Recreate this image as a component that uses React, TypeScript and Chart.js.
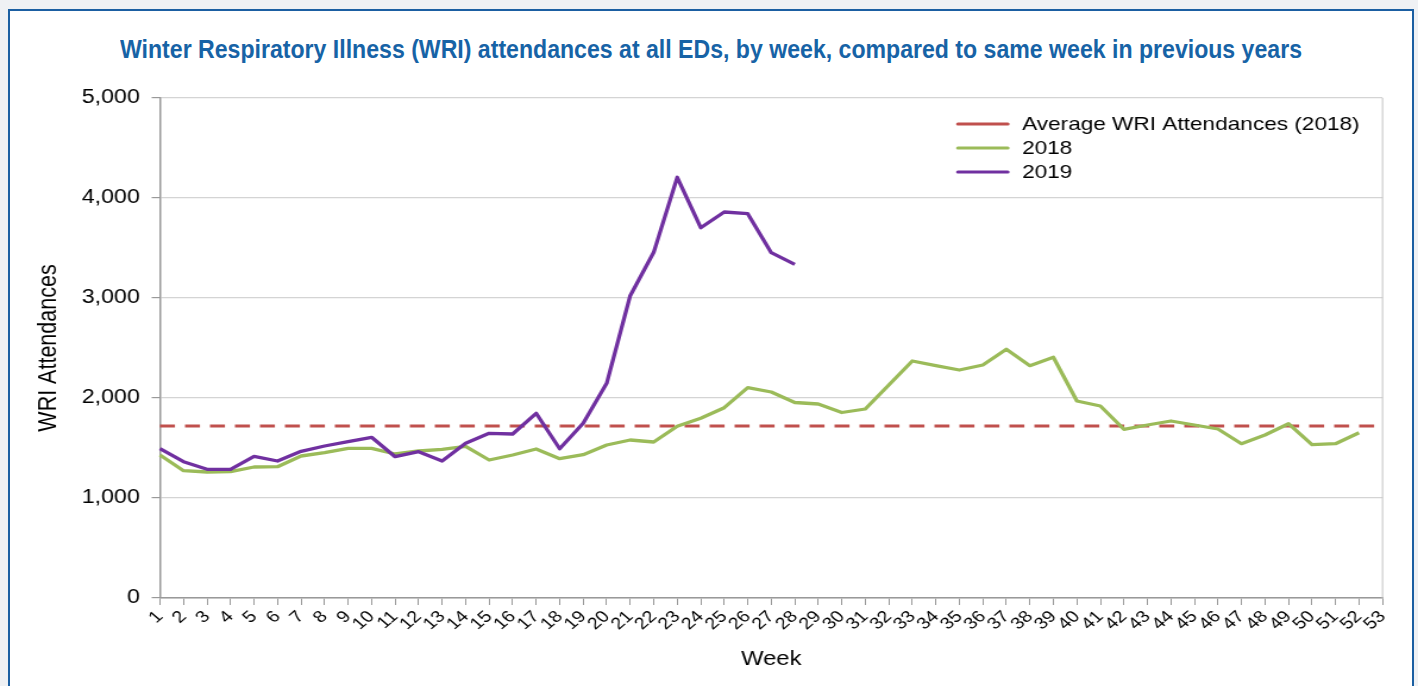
import React, { useEffect, useLayoutEffect, useRef } from "react";
import { Chart, registerables } from "chart.js";

Chart.register(...registerables);

// ---------- data ----------
const TITLE =
  "Winter Respiratory Illness (WRI) attendances at all EDs, by week, compared to same week in previous years";

const WEEKS = [
  "1", "2", "3", "4", "5", "6", "7", "8", "9", "10",
  "11", "12", "13", "14", "15", "16", "17", "18", "19", "20",
  "21", "22", "23", "24", "25", "26", "27", "28", "29", "30",
  "31", "32", "33", "34", "35", "36", "37", "38", "39", "40",
  "41", "42", "43", "44", "45", "46", "47", "48", "49", "50",
  "51", "52", "53",
];

const WRI_2018 = [
  1430, 1273, 1260, 1263, 1310, 1313, 1420, 1453, 1497, 1497,
  1440, 1470, 1487, 1517, 1380, 1430, 1490, 1393, 1433, 1530,
  1580, 1560, 1717, 1797, 1903, 2103, 2060, 1955, 1940, 1855,
  1890, 2130, 2370, 2323, 2280, 2330, 2487, 2323, 2407, 1970,
  1920, 1687, 1730, 1770, 1730, 1690, 1543, 1630, 1743, 1533,
  1543, 1653,
];

const WRI_2019 = [
  1493, 1363, 1287, 1287, 1417, 1370, 1467, 1520, 1563, 1607,
  1413, 1463, 1370, 1547, 1647, 1640, 1847, 1493, 1747, 2147,
  3023, 3457, 4207, 3703, 3860, 3843, 3453, 3337,
];

const AVERAGE_2018 = 1720;

const SERIES_LABELS = ["Average WRI Attendances (2018)", "2018", "2019"];
const SERIES_COLORS = ["#C0504D", "#9BBB59", "#7030A0"];

const Y_MIN = 0;
const Y_MAX = 5000;
const Y_STEP = 1000;

// ---------- layout ----------
const PAGE_W = 1418;
const PAGE_H = 686;
const INNER_W = 1192; // canvas drawn narrower, then stretched horizontally
const STRETCH = PAGE_W / INNER_W;
const TITLE_LEFT = 120;
const TITLE_WIDTH = 1182;
const FONT = '"Liberation Sans", Arial, sans-serif';

const insideLegend = {
  id: "insideLegend",
  afterDraw(chart: any) {
    const ctx = chart.ctx as CanvasRenderingContext2D;
    const area = chart.chartArea;
    const x0 = area.right - 357;
    ctx.save();
    chart.data.datasets.forEach((ds: any, i: number) => {
      const y = area.top + 26 + i * 24;
      ctx.strokeStyle = ds.borderColor;
      ctx.lineWidth = 3;
      ctx.lineCap = "round";
      ctx.setLineDash([]);
      ctx.beginPath();
      ctx.moveTo(x0, y);
      ctx.lineTo(x0 + 42, y);
      ctx.stroke();
      ctx.fillStyle = "#000";
      ctx.font = `19px ${FONT}`;
      ctx.textBaseline = "middle";
      ctx.textAlign = "left";
      ctx.fillText(ds.label, x0 + 54, y + 1);
    });
    ctx.restore();
  },
};

const plotFrame = {
  id: "plotFrame",
  afterDatasetsDraw(chart: any) {
    const ctx = chart.ctx as CanvasRenderingContext2D;
    const a = chart.chartArea;
    ctx.save();
    ctx.strokeStyle = "#c4c4c4";
    ctx.lineWidth = 1;
    ctx.beginPath();
    ctx.moveTo(a.right, a.top);
    ctx.lineTo(a.right, a.bottom);
    ctx.stroke();
    ctx.restore();
  },
};

function ChartCanvas() {
  const ref = useRef<HTMLCanvasElement>(null);
  useEffect(() => {
    if (!ref.current) return;
    Chart.defaults.color = "#000";
    const chart = new Chart(ref.current, {
      type: "line",
      data: {
        labels: WEEKS,
        datasets: [
          {
            label: SERIES_LABELS[0],
            data: WEEKS.map(() => AVERAGE_2018),
            borderColor: SERIES_COLORS[0],
            borderWidth: 3.2,
            borderDash: [12.6, 8.4],
            pointRadius: 0,
            tension: 0,
            order: 2,
          },
          {
            label: SERIES_LABELS[1],
            data: WRI_2018,
            borderColor: SERIES_COLORS[1],
            borderWidth: 3.3,
            pointRadius: 0,
            tension: 0,
            borderJoinStyle: "round",
            order: 1,
          },
          {
            label: SERIES_LABELS[2],
            data: WRI_2019,
            borderColor: SERIES_COLORS[2],
            borderWidth: 3.3,
            pointRadius: 0,
            tension: 0,
            borderJoinStyle: "round",
            order: 0,
          },
        ],
      },
      options: {
        animation: false,
        responsive: true,
        maintainAspectRatio: false,
        devicePixelRatio: 1,
        layout: { padding: { left: 0, top: 98, right: INNER_W - 1382.5 / STRETCH, bottom: 0 } },
        plugins: {
          legend: { display: false },
          tooltip: { enabled: false },
          title: { display: false },
        },
        scales: {
          x: {
            type: "category",
            offset: false,
            afterFit: (s: any) => {
              s.height = PAGE_H - 598;
            },
            grid: {
              offset: false,
              drawOnChartArea: false,
              drawTicks: true,
              tickLength: 7,
              tickColor: "#999",
            },
            border: { color: "#999", width: 1.5 },
            ticks: {
              autoSkip: false,
              maxRotation: 45,
              minRotation: 45,
              padding: 2,
              color: "#000",
              font: { family: FONT, size: 16.5 },
            },
            title: {
              display: true,
              text: "Week",
              color: "#000",
              font: { family: FONT, size: 20, lineHeight: 1.2 },
              padding: { top: 0, bottom: 15 },
            },
          },
          y: {
            min: Y_MIN,
            max: Y_MAX,
            afterFit: (s: any) => {
              s.width = 160 / STRETCH;
            },
            grid: {
              color: "#d4d4d4",
              lineWidth: 1.2,
              tickColor: "#999",
              tickLength: 7,
            },
            border: { color: "#999", width: 1.5 },
            ticks: {
              stepSize: Y_STEP,
              padding: 10,
              color: "#000",
              font: { family: FONT, size: 19.5 },
              callback: (v: any) => Number(v).toLocaleString("en-US"),
            },
            title: {
              display: true,
              text: "WRI Attendances",
              color: "#000",
              font: { family: FONT, size: 21.5, lineHeight: 1.2 },
              padding: { top: 28, bottom: 0 },
            },
          },
        },
      },
      plugins: [insideLegend, plotFrame],
    } as any);
    return () => chart.destroy();
  }, []);
  return <canvas ref={ref} />;
}

function TitleText() {
  const ref = useRef<HTMLSpanElement>(null);
  useLayoutEffect(() => {
    const fit = () => {
      const el = ref.current;
      if (!el) return;
      el.style.transform = "none";
      const w = el.getBoundingClientRect().width;
      if (w > 0) el.style.transform = `scaleX(${TITLE_WIDTH / w})`;
    };
    fit();
    const f = (document as any).fonts;
    if (f && f.ready) f.ready.then(fit);
  }, []);
  return (
    <span
      ref={ref}
      style={{
        position: "absolute",
        left: TITLE_LEFT,
        top: 36,
        display: "inline-block",
        whiteSpace: "nowrap",
        font: 'bold 26px/26px "Liberation Sans Narrow", "Liberation Sans", Arial, sans-serif',
        color: "#1763A6",
        transformOrigin: "0 0",
      }}
    >
      {TITLE}
    </span>
  );
}

export default function App() {
  return (
    <div
      style={{
        position: "fixed",
        left: 0,
        top: 0,
        width: PAGE_W,
        height: PAGE_H,
        overflow: "hidden",
        background: "#eff1f4",
      }}
    >
      <div
        style={{
          position: "absolute",
          left: 8,
          top: 9,
          width: 1406,
          height: 720,
          boxSizing: "border-box",
          background: "#fff",
          border: "2px solid #1b5fa2",
        }}
      />
      <TitleText />
      <div
        style={{
          position: "absolute",
          left: 0,
          top: 0,
          width: INNER_W,
          height: PAGE_H,
          transform: `scaleX(${STRETCH})`,
          transformOrigin: "0 0",
        }}
      >
        <ChartCanvas />
      </div>
    </div>
  );
}
